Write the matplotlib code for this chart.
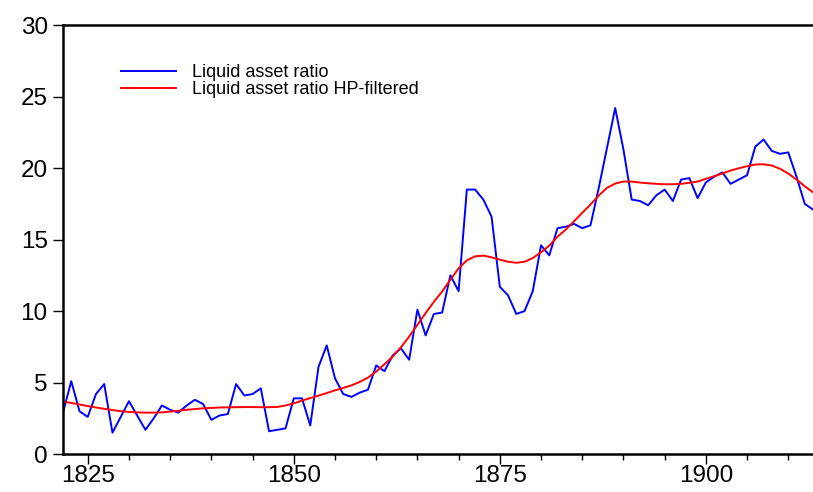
import matplotlib.pyplot as plt
from matplotlib.ticker import MultipleLocator

years = list(range(1822, 1914))

# liquid asset ratio
ratio = [2.9, 5.1, 3.0, 2.6, 4.2, 4.9, 1.5, 2.6, 3.7, 2.7,
         1.7, 2.5, 3.4, 3.1, 2.9, 3.4, 3.8, 3.5, 2.4, 2.7,
         2.8, 4.9, 4.1, 4.2, 4.6, 1.6, 1.7, 1.8, 3.9, 3.9,
         2.0, 6.1, 7.6, 5.3, 4.2, 4.0, 4.3, 4.5, 6.2, 5.8,
         6.9, 7.4, 6.6, 10.1, 8.3, 9.8, 9.9, 12.5, 11.4, 18.5,
         18.5, 17.8, 16.6, 11.7, 11.1, 9.8, 10.0, 11.4, 14.6, 13.9,
         15.8, 15.9, 16.1, 15.8, 16.0, 18.6, 21.4, 24.2, 21.3, 17.8,
         17.7, 17.4, 18.1, 18.5, 17.7, 19.2, 19.3, 17.9, 19.0, 19.4,
         19.7, 18.9, 19.2, 19.5, 21.5, 22.0, 21.2, 21.0, 21.1, 19.4,
         17.5, 17.1]

# HP-filtered trend
trend = [3.67, 3.58, 3.47, 3.36, 3.26, 3.17, 3.08, 3.00, 2.95, 2.92,
         2.90, 2.90, 2.92, 2.97, 3.03, 3.10, 3.15, 3.20, 3.23, 3.26,
         3.27, 3.28, 3.29, 3.29, 3.28, 3.28, 3.30, 3.40, 3.55, 3.74,
         3.92, 4.09, 4.27, 4.46, 4.63, 4.81, 5.05, 5.35, 5.77, 6.28,
         6.82, 7.47, 8.22, 9.04, 9.86, 10.65, 11.37, 12.19, 12.99, 13.55,
         13.83, 13.88, 13.76, 13.60, 13.45, 13.38, 13.45, 13.71, 14.11, 14.58,
         15.2, 15.7, 16.28, 16.87, 17.45, 18.08, 18.62, 18.92, 19.06, 19.06,
         18.99, 18.94, 18.90, 18.87, 18.87, 18.90, 18.97, 19.06, 19.25, 19.43,
         19.62, 19.83, 19.99, 20.13, 20.25, 20.27, 20.18, 19.95, 19.62, 19.20,
         18.73, 18.31]

plt.rcParams['font.family'] = ['Liberation Sans', 'DejaVu Sans']

fig = plt.figure(figsize=(8.13, 4.92), dpi=100)
ax = fig.add_axes([0.0775, 0.077, 0.9225, 0.872])

ax.plot(years, ratio, color='#0000ff', lw=1.4, label='Liquid asset ratio')
ax.plot(years, trend, color='#ff0000', lw=1.4, label='Liquid asset ratio HP-filtered')

ax.set_xlim(1822, 1913)
ax.set_ylim(0, 30)
ax.set_xticks([1825, 1850, 1875, 1900])
ax.xaxis.set_minor_locator(MultipleLocator(5))
ax.set_yticks([0, 5, 10, 15, 20, 25, 30])

ax.spines['right'].set_visible(False)
for s in ['left', 'top', 'bottom']:
    ax.spines[s].set_linewidth(1.8)
ax.tick_params(axis='both', which='major', labelsize=17.5, direction='out', length=7, width=1)
ax.tick_params(axis='x', which='minor', direction='out', length=4, width=1)
ax.tick_params(axis='x', pad=1)
ax.tick_params(axis='y', pad=4)

ax.legend(loc='upper left', bbox_to_anchor=(0.055, 0.947), frameon=False, fontsize=13,
          handlelength=3.05, handletextpad=0.9, labelspacing=0.0)

fig.savefig('out.png', dpi=100)
